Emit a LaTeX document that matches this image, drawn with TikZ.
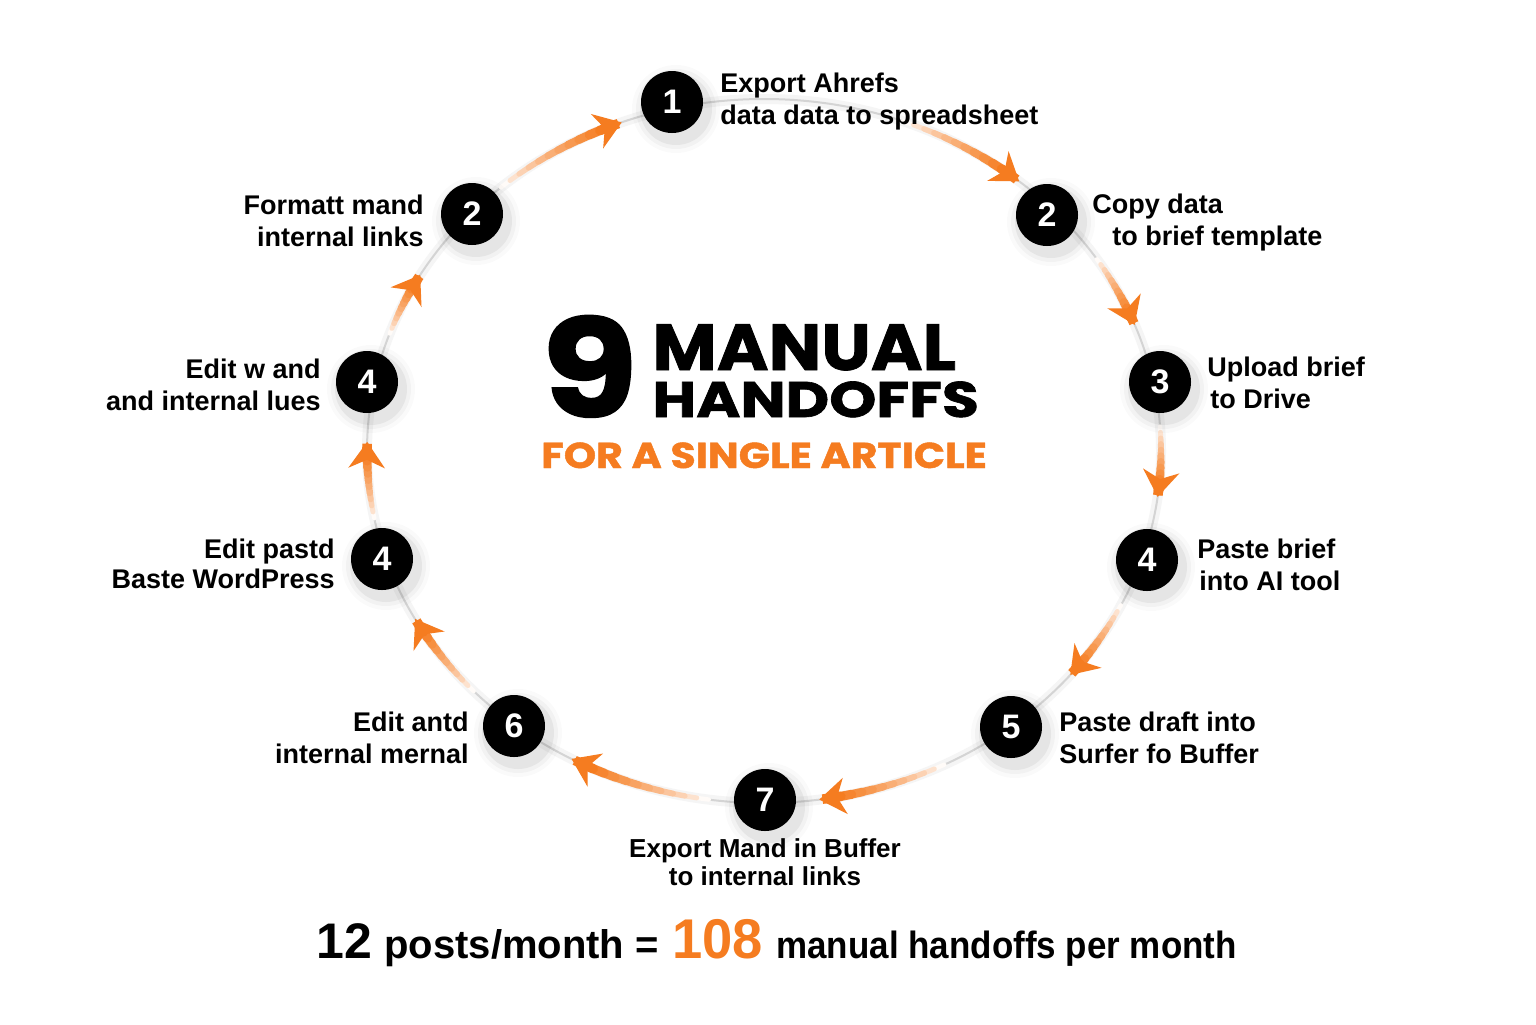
\documentclass[tikz,border=0pt]{standalone}
\usepackage{fontspec}
\setmainfont{Liberation Sans}
\newfontfamily\heavy{Poppins}[BoldFeatures={FakeBold=1.2}]
\usetikzlibrary{arrows.meta,calc}
\definecolor{brandorange}{RGB}{245,124,32}
\definecolor{ringgray}{RGB}{212,212,212}
\newcommand\flowarc[3]{%
  \foreach \k in {0,...,12}{%
    \pgfmathsetmacro\myang{#1+(#2-#1)*\k/12}%
    \coordinate (#3-\k) at ({764+397*cos(\myang)},{451-352*sin(\myang)});%
  }%
  \foreach \k in {0,...,10}{%
    \pgfmathtruncatemacro\kk{\k+1}%
    \pgfmathtruncatemacro\mix{3+97*((\k+0.001)/10)^0.7}%
    \pgfmathsetmacro\lw{2.2+2.6*\k/10}%
    \draw[flowseg,line width=\lw pt,draw=brandorange!\mix!white] (#3-\k) -- (#3-\kk);%
  }%
  \draw[flowtip] ($(#3-12)!0.3!(#3-11)$) -- (#3-12);%
}
\begin{document}
\begin{tikzpicture}[x=0.5pt,y=-0.5pt,
  numdot/.style={circle,fill=black,minimum size=31pt,inner sep=0pt,text=white,font=\bfseries\fontsize{17}{17}\selectfont},
  lab/.style={font=\bfseries\fontsize{13.5}{16}\selectfont,inner sep=0pt},
  labL/.style={lab,align=left,anchor=north west},
  labR/.style={lab,align=right,anchor=north east},
  ring/.style={draw=ringgray,line width=1pt},
  flowseg/.style={line cap=round},
  flowtip/.style={line width=4.8pt,draw=brandorange,-{Stealth[length=13pt,width=18pt,inset=4pt]}},
  bigtext/.style={inner sep=0pt,anchor=base west,font=\bfseries},
  titletext/.style={inner sep=0pt,anchor=base west}
]
\fill[white] (0,0) rectangle (1536,1024);
\useasboundingbox (0,0) rectangle (1536,1024);

% ring
\draw[line width=5pt,draw=black!4] (764,451) ellipse[x radius=397,y radius=352];
\draw[ring] (764,451) ellipse[x radius=397,y radius=352];

% arrows
\flowarc{131.5}{111}{A}
\flowarc{69.5}{50}{B}
\flowarc{33}{21}{C}
\flowarc{4}{-7.5}{D}
\flowarc{-26}{-39.5}{E}
\flowarc{-63}{-82}{F}
\flowarc{-98}{-119}{G}
\flowarc{-137}{-151.5}{H}
\flowarc{-169}{-181.5}{I}
\flowarc{160.5}{150}{J}

% shadows
\foreach \cx/\cy in {672/102,1047/215,1160/382,1147/560,1011/727,765/800,514/726,382/559,367/382,472/214}{
  \foreach \r/\o in {44/0.02,40/0.03,36/0.05}
    \fill[black,opacity=\o] (\cx+4,\cy+7) circle[radius=\r];
}

% numbered circles
\node[numdot] (n1) at (672,102) {1};
\node[numdot] (n2) at (1047,215) {2};
\node[numdot] (n3) at (1160,382) {3};
\node[numdot] (n4) at (1147,560) {4};
\node[numdot] (n5) at (1011,727) {5};
\node[numdot] (n7) at (765,800) {7};
\node[numdot] (n6) at (514,726) {6};
\node[numdot] (n4b) at (382,559) {4};
\node[numdot] (n4c) at (367,382) {4};
\node[numdot] (n2b) at (472,214) {2};

% labels
\node[labL] (l1) at (720,73) {Export Ahrefs\\data data to spreadsheet};
\node[labL] (l2) at (1092,194) {Copy data\\\hspace*{10pt}to brief template};
\node[labL] (l3) at (1207,357) {Upload brief\\\hspace*{1.5pt}to Drive};
\node[labL] (l4) at (1197,539) {Paste brief\\\hspace*{1pt}into AI tool};
\node[labL] (l5) at (1059,712) {Paste draft into\\Surfer fo Buffer};
\node[lab,align=center,anchor=north,font=\bfseries\fontsize{13}{14}\selectfont] (l7) at (765,838) {Export Mand in Buffer\\to internal links};
\node[labR] (l6) at (469,712) {Edit antd\\internal mernal};
\node[labR,font=\bfseries\fontsize{13.5}{15}\selectfont] (l4b) at (335,539) {Edit pastd\\Baste WordPress};
\node[labR] (l4c) at (321,359) {Edit w and\\and internal lues};
\node[labR] (l2b) at (424,195) {Formatt mand\\internal links};

% title
\node[titletext,font=\heavy\bfseries\fontsize{68}{68}\selectfont] (nine) at (541,417) {\scalebox{1.15}[1]{9}};
\node[titletext,font=\heavy\bfseries\fontsize{32.5}{32.5}\selectfont] (manual) at (652,370) {\scalebox{1.08}[1]{MANUAL}};
\node[titletext,font=\heavy\bfseries\fontsize{25}{25}\selectfont] (handoffs) at (652,417) {\scalebox{1.2}[1]{HANDOFFS}};
\node[titletext,text=brandorange,font=\heavy\bfseries\fontsize{18}{18}\selectfont] (single) at (541,468) {\scalebox{1.14}[1]{FOR A SINGLE ARTICLE}};

% bottom line
\node[bigtext,font=\bfseries\fontsize{25}{25}\selectfont] (b12) at (316,958) {12};
\node[bigtext,font=\bfseries\fontsize{20}{20}\selectfont] (bposts) at (384,958) {posts/month =};
\node[bigtext,text=brandorange,font=\bfseries\fontsize{28}{28}\selectfont] (b108) at (672,958) {\scalebox{0.97}[1]{108}};
\node[bigtext,font=\bfseries\fontsize{19}{19}\selectfont] (bmanual) at (776,958) {\scalebox{0.92}[1]{manual handoffs per month}};
\end{tikzpicture}
\end{document}
